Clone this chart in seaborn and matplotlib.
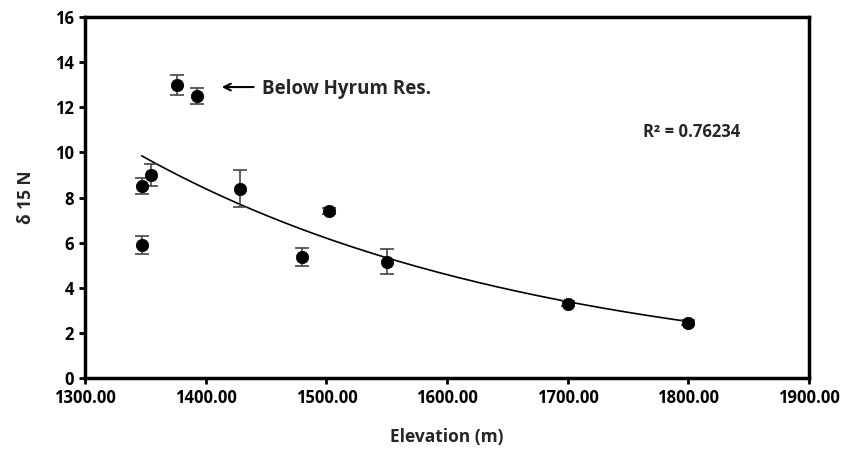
import numpy as np
import pandas as pd
import matplotlib
matplotlib.use("Agg")
import matplotlib.pyplot as plt
import seaborn as sns

# Data
elevation = [1347, 1347, 1355, 1376, 1393, 1428, 1480, 1502, 1550, 1700, 1800]
d15n = [8.5, 5.9, 9.0, 13.0, 12.5, 8.4, 5.35, 7.4, 5.15, 3.3, 2.45]
err = [0.35, 0.4, 0.5, 0.45, 0.35, 0.8, 0.4, 0.15, 0.55, 0.1, 0.1]
# exponential trend line y = a * exp(b * x)
trend_a = 581.0
trend_b = -0.003027
trend_range = [1347, 1800]
x_ticks = [1300, 1400, 1500, 1600, 1700, 1800, 1900]
y_ticks = [0, 2, 4, 6, 8, 10, 12, 14, 16]
r2_label = "R² = 0.76234"
annot_label = "Below Hyrum Res."

df = pd.DataFrame({"x": elevation, "y": d15n, "e": err})

sns.set_theme(style="white")
plt.rcParams["font.family"] = ["Open Sans", "DejaVu Sans"]
plt.rcParams["font.weight"] = "bold"

fig = plt.figure(figsize=(8.59, 4.51), dpi=100)
ax = fig.add_axes([0.099, 0.162, 0.843, 0.800])

xs = np.linspace(trend_range[0], trend_range[1], 200)
trend = pd.DataFrame({"x": xs, "y": trend_a * np.exp(trend_b * xs)})
sns.lineplot(data=trend, x="x", y="y", ax=ax, color="black", linewidth=1.2)

ax.errorbar(df.x, df.y, yerr=df.e, fmt="none", ecolor="#444444",
            elinewidth=1.2, capsize=5, capthick=1.2, zorder=2)
sns.scatterplot(data=df, x="x", y="y", ax=ax, color="black", s=80,
                edgecolor="black", linewidth=0.5, zorder=3)

ax.set_xlim(1300, 1900)
ax.set_ylim(0, 16)
ax.set_xticks(x_ticks)
ax.set_xticklabels([f"{t:.2f}" for t in x_ticks])
ax.set_yticks(y_ticks)
ax.tick_params(axis="both", direction="out", length=4, width=2, colors="black",
               labelsize=12, bottom=True, left=True, pad=4)
for lbl in ax.get_xticklabels() + ax.get_yticklabels():
    lbl.set_fontweight("bold")
for s in ax.spines.values():
    s.set_visible(True)
    s.set_linewidth(2.5)
    s.set_color("black")

ax.set_xlabel("Elevation (m)", fontsize=12.5, fontweight="bold", labelpad=15)
ax.set_ylabel("δ 15 N", fontsize=12.5, fontweight="bold", labelpad=14)

ax.annotate("", xy=(1411, 12.9), xytext=(1442, 12.9),
            arrowprops=dict(arrowstyle="->", color="black", lw=1.5))
ax.text(1447, 12.8, annot_label, fontsize=13.5, fontweight="bold", va="center", ha="left")
ax.text(1762, 10.9, r2_label, fontsize=12, fontweight="bold", va="center", ha="left")

fig.savefig("out.png", dpi=100, facecolor="white")
